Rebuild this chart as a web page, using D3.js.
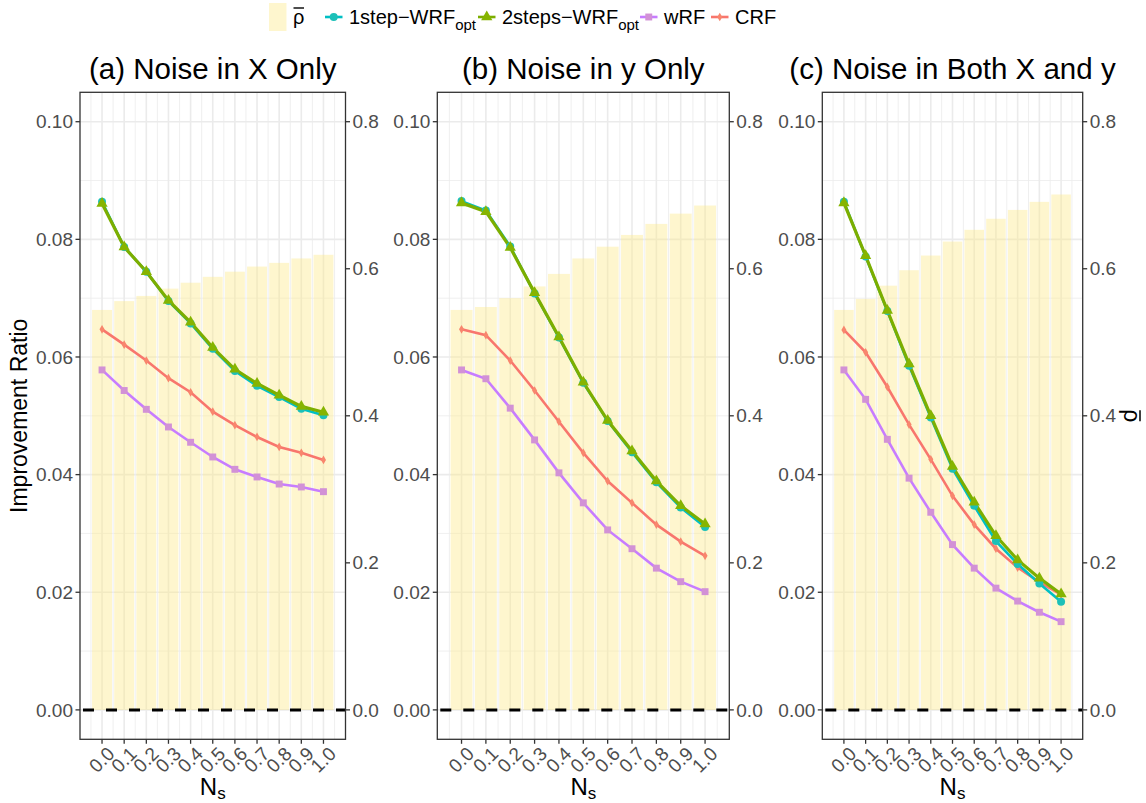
<!DOCTYPE html>
<html>
<head>
<meta charset="utf-8">
<script src="https://cdn.jsdelivr.net/npm/d3@7"></script>
<style>
  body { margin: 0; background: #fff; }
  svg { display: block; font-family: "Liberation Sans", Arial, sans-serif; }
</style>
</head>
<body>
<svg id="chart" width="1146" height="803"></svg>
<script>
// ---- data ----
var ns = [0, 0.1, 0.2, 0.3, 0.4, 0.5, 0.6, 0.7, 0.8, 0.9, 1.0];
var nsLabels = ["0.0", "0.1", "0.2", "0.3", "0.4", "0.5", "0.6", "0.7", "0.8", "0.9", "1.0"];
var leftTicks = [0, 0.02, 0.04, 0.06, 0.08, 0.10];
var leftTickLabels = ["0.00", "0.02", "0.04", "0.06", "0.08", "0.10"];
var rightTicks = [0, 0.2, 0.4, 0.6, 0.8];
var rightTickLabels = ["0.0", "0.2", "0.4", "0.6", "0.8"];
var titles = ["(a) Noise in X Only", "(b) Noise in y Only", "(c) Noise in Both X and y"];

// panel (a)
var rhoA  = [0.544, 0.556, 0.563, 0.573, 0.581, 0.589, 0.596, 0.603, 0.608, 0.614, 0.619];
var oneA  = [0.0864, 0.0787, 0.0745, 0.0695, 0.0657, 0.0614, 0.0576, 0.0551, 0.0532, 0.0512, 0.0501];
var twoA  = [0.0861, 0.0787, 0.0745, 0.0696, 0.0659, 0.0616, 0.0579, 0.0555, 0.0535, 0.0516, 0.0506];
var wrfA  = [0.0578, 0.0543, 0.0511, 0.0481, 0.0455, 0.0430, 0.0409, 0.0396, 0.0384, 0.0379, 0.0371];
var crfA  = [0.0647, 0.0621, 0.0594, 0.0564, 0.0540, 0.0507, 0.0484, 0.0464, 0.0447, 0.0437, 0.0425];
// panel (b)
var rhoB  = [0.544, 0.548, 0.560, 0.576, 0.593, 0.614, 0.630, 0.646, 0.661, 0.675, 0.686];
var oneB  = [0.0865, 0.0849, 0.0788, 0.0708, 0.0633, 0.0556, 0.0491, 0.0438, 0.0387, 0.0344, 0.0311];
var twoB  = [0.0862, 0.0847, 0.0786, 0.0709, 0.0634, 0.0557, 0.0492, 0.0440, 0.0389, 0.0347, 0.0316];
var wrfB  = [0.0578, 0.0563, 0.0513, 0.0459, 0.0403, 0.0352, 0.0306, 0.0274, 0.0241, 0.0218, 0.0201];
var crfB  = [0.0647, 0.0637, 0.0594, 0.0543, 0.0490, 0.0437, 0.0389, 0.0352, 0.0315, 0.0286, 0.0262];
// panel (c)
var rhoC  = [0.544, 0.559, 0.577, 0.598, 0.618, 0.637, 0.653, 0.668, 0.680, 0.691, 0.701];
var oneC  = [0.0864, 0.0771, 0.0678, 0.0585, 0.0497, 0.0410, 0.0347, 0.0287, 0.0248, 0.0215, 0.0184];
var twoC  = [0.0862, 0.0772, 0.0679, 0.0588, 0.0500, 0.0414, 0.0353, 0.0296, 0.0255, 0.0224, 0.0197];
var wrfC  = [0.0578, 0.0528, 0.0460, 0.0394, 0.0336, 0.0281, 0.0241, 0.0207, 0.0185, 0.0166, 0.0150];
var crfC  = [0.0646, 0.0608, 0.0549, 0.0485, 0.0426, 0.0364, 0.0315, 0.0274, 0.0242, 0.0217, 0.0196];

var panelData = [
    {rho: rhoA, one: oneA, two: twoA, wrf: wrfA, crf: crfA},
    {rho: rhoB, one: oneB, two: twoB, wrf: wrfB, crf: crfB},
    {rho: rhoC, one: oneC, two: twoC, wrf: wrfC, crf: crfC}
];

// ---- layout / style ----
var panels = [
    {left: 80, right: 345.5},
    {left: 437.3, right: 729.3},
    {left: 822.3, right: 1082.7}
];
var plotTop = 92.3, plotBottom = 739.3;
var barFill = "#FCE98A", barOpacity = 0.42;
var series = [
    {key: "crf", color: "#F8766D", pt: "#F8866D", shape: d3.symbolDiamond, size: 22},
    {key: "wrf", color: "#C77CFF", pt: "#D291D6", shape: d3.symbolSquare, size: 48},
    {key: "one", color: "#00BFC4", pt: "#1CC0B8", shape: d3.symbolCircle, size: 50},
    {key: "two", color: "#7CAE00", pt: "#86B400", shape: d3.symbolTriangle, size: 55}
];
var tickCol = "#4D4D4D", lineCol = "#333333", gridCol = "#EBEBEB";
var tickSize = 19;

var svg = d3.select("#chart");

var y = d3.scaleLinear().domain([-0.005, 0.105]).range([plotBottom, plotTop]);
var y2 = d3.scaleLinear().domain([-0.04, 0.84]).range([plotBottom, plotTop]);

panels.forEach(function (p, i) {
    var d = panelData[i];
    var x = d3.scaleLinear().domain([-0.0995, 1.0995]).range([p.left, p.right]);
    var g = svg.append("g");

    // grid
    var minorX = d3.range(-0.05, 1.1, 0.1);
    var minorY = [0.01, 0.03, 0.05, 0.07, 0.09];
    g.selectAll(".mx").data(minorX).enter().append("line")
        .attr("x1", v => x(v)).attr("x2", v => x(v)).attr("y1", plotTop).attr("y2", plotBottom)
        .attr("stroke", gridCol).attr("stroke-width", 0.8);
    g.selectAll(".my").data(minorY).enter().append("line")
        .attr("x1", p.left).attr("x2", p.right).attr("y1", v => y(v)).attr("y2", v => y(v))
        .attr("stroke", gridCol).attr("stroke-width", 0.8);
    g.selectAll(".gx").data(ns).enter().append("line")
        .attr("x1", v => x(v)).attr("x2", v => x(v)).attr("y1", plotTop).attr("y2", plotBottom)
        .attr("stroke", gridCol).attr("stroke-width", 1.6);
    g.selectAll(".gy").data(leftTicks).enter().append("line")
        .attr("x1", p.left).attr("x2", p.right).attr("y1", v => y(v)).attr("y2", v => y(v))
        .attr("stroke", gridCol).attr("stroke-width", 1.6);

    // bars (secondary axis)
    g.selectAll(".bar").data(ns).enter().append("rect")
        .attr("x", (v) => x(v - 0.045))
        .attr("width", x(0.09) - x(0))
        .attr("y", (v, j) => y2(d.rho[j]))
        .attr("height", (v, j) => y2(0) - y2(d.rho[j]))
        .attr("fill", barFill).attr("fill-opacity", barOpacity);

    // zero line
    g.append("line")
        .attr("x1", p.left).attr("x2", p.right).attr("y1", y(0)).attr("y2", y(0))
        .attr("stroke", "#000").attr("stroke-width", 3).attr("stroke-dasharray", "11 12")
        .attr("stroke-dashoffset", -3);

    // lines + points
    var line = d3.line().x((v, j) => x(ns[j])).y(v => y(v));
    series.forEach(function (s) {
        g.append("path").datum(d[s.key])
            .attr("d", line).attr("fill", "none")
            .attr("stroke", s.color).attr("stroke-width", s.key === "two" ? 3.2 : 2.6);
    });
    series.forEach(function (s) {
        g.selectAll(".pt-" + s.key).data(d[s.key]).enter().append("path")
            .attr("d", d3.symbol().type(s.shape).size(s.size))
            .attr("transform", (v, j) => "translate(" + x(ns[j]) + "," + y(v) + ")")
            .attr("fill", s.pt);
    });

    // border
    g.append("rect").attr("x", p.left).attr("y", plotTop)
        .attr("width", p.right - p.left).attr("height", plotBottom - plotTop)
        .attr("fill", "none").attr("stroke", lineCol).attr("stroke-width", 1.3);

    // left axis
    leftTicks.forEach(function (t, j) {
        g.append("line").attr("x1", p.left - 4.5).attr("x2", p.left)
            .attr("y1", y(t)).attr("y2", y(t)).attr("stroke", lineCol).attr("stroke-width", 1.3);
        g.append("text").attr("x", p.left - 7).attr("y", y(t)).attr("dy", "0.35em")
            .attr("text-anchor", "end").attr("font-size", tickSize).attr("fill", tickCol)
            .text(leftTickLabels[j]);
    });
    // right axis
    rightTicks.forEach(function (t, j) {
        g.append("line").attr("x1", p.right).attr("x2", p.right + 4.5)
            .attr("y1", y2(t)).attr("y2", y2(t)).attr("stroke", lineCol).attr("stroke-width", 1.3);
        g.append("text").attr("x", p.right + 7).attr("y", y2(t)).attr("dy", "0.35em")
            .attr("text-anchor", "start").attr("font-size", tickSize).attr("fill", tickCol)
            .text(rightTickLabels[j]);
    });
    // bottom axis
    ns.forEach(function (t, j) {
        g.append("line").attr("x1", x(t)).attr("x2", x(t))
            .attr("y1", plotBottom).attr("y2", plotBottom + 4.5).attr("stroke", lineCol).attr("stroke-width", 1.3);
        g.append("text")
            .attr("transform", "translate(" + (x(t) + 4) + "," + (plotBottom + 6) + ") rotate(-45)")
            .attr("dy", "0.72em").attr("text-anchor", "end")
            .attr("font-size", tickSize).attr("fill", tickCol).text(nsLabels[j]);
    });

    // x title N_s
    var xt = g.append("text").attr("x", (p.left + p.right) / 2).attr("y", 795)
        .attr("text-anchor", "middle").attr("font-size", 24).attr("fill", "#000");
    xt.append("tspan").text("N");
    xt.append("tspan").attr("font-size", 17).attr("dy", 4).text("s");

    // panel title
    g.append("text").attr("x", (p.left + p.right) / 2).attr("y", 79)
        .attr("text-anchor", "middle").attr("font-size", 29.5).attr("fill", "#000")
        .text(titles[i]);
});

// axis titles
svg.append("text").attr("transform", "translate(27," + ((plotTop + plotBottom) / 2) + ") rotate(-90)")
    .attr("text-anchor", "middle").attr("font-size", 23).text("Improvement Ratio");
var rt = svg.append("g").attr("transform", "translate(1124," + ((plotTop + plotBottom) / 2) + ") rotate(90)");
rt.append("text").attr("text-anchor", "middle").attr("font-size", 23).text("ρ");
rt.append("line").attr("x1", -5.5).attr("x2", 5.5).attr("y1", -16).attr("y2", -16)
    .attr("stroke", "#000").attr("stroke-width", 1.5);

// legend
var ly = 17;
var lg = svg.append("g");
lg.append("rect").attr("x", 269).attr("y", 3).attr("width", 17.5).attr("height", 28)
    .attr("fill", barFill).attr("fill-opacity", barOpacity);
lg.append("text").attr("x", 293).attr("y", ly + 7).attr("font-size", 20).text("ρ");
lg.append("line").attr("x1", 293.5).attr("x2", 304).attr("y1", ly - 9).attr("y2", ly - 9)
    .attr("stroke", "#000").attr("stroke-width", 1.4);

var legendItems = [
    {s: series[2], x: 325, label: "1step\u2212WRF", sub: "opt"},
    {s: series[3], x: 478, label: "2steps\u2212WRF", sub: "opt"},
    {s: series[1], x: 640, label: "wRF", sub: null},
    {s: series[0], x: 711, label: "CRF", sub: null}
];
legendItems.forEach(function (it) {
    lg.append("line").attr("x1", it.x).attr("x2", it.x + 17.5).attr("y1", ly).attr("y2", ly)
        .attr("stroke", it.s.color).attr("stroke-width", 2.6);
    lg.append("path").attr("d", d3.symbol().type(it.s.shape).size(it.s.size))
        .attr("transform", "translate(" + (it.x + 8.75) + "," + ly + ")").attr("fill", it.s.pt);
    var t = lg.append("text").attr("x", it.x + 24).attr("y", ly + 7).attr("font-size", 20);
    t.append("tspan").text(it.label);
    if (it.sub) t.append("tspan").attr("font-size", 15).attr("dy", 6).text(it.sub);
});
</script>
</body>
</html>
